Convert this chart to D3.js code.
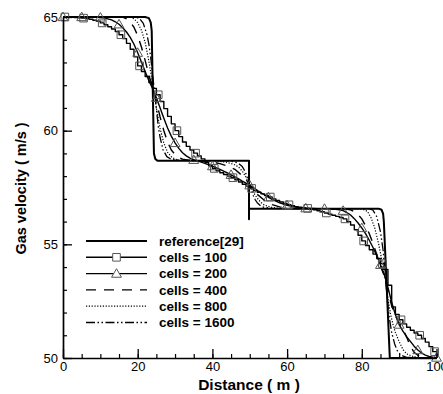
<!DOCTYPE html>
<html>
<head>
<meta charset="utf-8">
<script src="https://cdn.jsdelivr.net/npm/d3@7"></script>
<style>
  html, body { margin: 0; padding: 0; background: #fff; }
  svg { display: block; font-family: "Liberation Sans", Arial, sans-serif; }
</style>
</head>
<body>
<svg id="chart" width="443" height="394"></svg>
<script>
// Gas velocity along the pipe: exact profile and grid-refinement runs.

// Exact (reference) profile
const refX = [0, 22.0, 23.0, 23.5, 23.75, 24.35, 24.7, 25.3, 49.8, 49.8, 49.8, 84.5, 85.3, 85.7, 85.9, 87.5, 100];
const refY = [65, 65, 64.95, 64.75, 64.4, 59.0, 58.76, 58.68, 58.68, 56.1, 56.57, 56.57, 56.52, 56.35, 56.0, 50.0, 50.0];

// cells = 100 : cell-centred values, cell width 1 m
const cells100 = [
  65.00, 65.00, 64.99, 64.98, 64.97, 64.95, 64.93, 64.90, 64.86, 64.81,
  64.74, 64.66, 64.57, 64.47, 64.36, 64.22, 64.05, 63.84, 63.58, 63.25,
  62.85, 62.60, 62.38, 62.12, 61.86, 61.58, 61.28, 60.97, 60.63, 60.30,
  60.00, 59.74, 59.50, 59.31, 59.15, 59.01, 58.89, 58.76, 58.61, 58.46,
  58.34, 58.24, 58.15, 58.07, 58.00, 57.93, 57.84, 57.74, 57.64, 57.55,
  57.46, 57.37, 57.29, 57.22, 57.15, 57.08, 57.00, 56.93, 56.86, 56.80,
  56.74, 56.70, 56.66, 56.63, 56.60, 56.58, 56.55, 56.52, 56.48, 56.44,
  56.38, 56.33, 56.28, 56.23, 56.18, 56.12, 56.00, 55.85, 55.64, 55.40,
  55.15, 54.95, 54.76, 54.57, 54.38, 54.15, 53.90, 53.20, 52.25, 51.92,
  51.68, 51.50, 51.35, 51.22, 51.10, 51.00, 50.86, 50.70, 50.50, 50.28
];

// cells = 200 : sampled every 1 m
const cells200 = [
  65.00, 65.00, 65.00, 65.00, 65.00, 65.00, 65.00, 65.00, 65.00, 65.00,
  64.98, 64.96, 64.92, 64.87, 64.79, 64.68, 64.53, 64.34, 64.10, 63.80,
  63.43, 63.02, 62.60, 62.20, 61.85, 61.45, 61.00, 60.55, 60.12, 59.76,
  59.46, 59.22, 59.03, 58.89, 58.79, 58.72, 58.67, 58.62, 58.56, 58.50,
  58.44, 58.37, 58.30, 58.22, 58.14, 58.06, 57.97, 57.88, 57.78, 57.69,
  57.60, 57.49, 57.38, 57.27, 57.17, 57.07, 56.98, 56.90, 56.83, 56.77,
  56.72, 56.68, 56.65, 56.62, 56.60, 56.59, 56.58, 56.58, 56.57, 56.57,
  56.57, 56.56, 56.55, 56.54, 56.52, 56.48, 56.40, 56.29, 56.13, 55.94,
  55.72, 55.47, 55.18, 54.86, 54.50, 54.10, 53.68, 53.10, 52.45, 51.90,
  51.47, 51.18, 50.94, 50.73, 50.52, 50.35, 50.22, 50.13, 50.07, 50.04,
  50.02
];

// cells = 400
const cells400X = [0, 16, 17, 18, 19, 20, 21, 22, 23, 24, 25, 26, 27, 28, 29, 30, 31, 32, 34, 38,
  40, 42, 44, 46, 48, 49, 50, 51, 52, 54, 56, 58, 60, 63, 70, 75, 77, 78.5, 80, 81,
  82, 83, 84, 85, 86, 86.5, 87.2, 88, 89, 90, 91, 92, 93, 94, 95, 96, 98, 100];
const cells400Y = [65, 65, 64.92, 64.78, 64.55, 64.18, 63.68, 63.08, 62.45, 61.9, 61.3, 60.6, 60.0, 59.5, 59.15, 58.95, 58.82, 58.75, 58.69, 58.66,
  58.62, 58.55, 58.45, 58.3, 58.02, 57.85, 57.62, 57.4, 57.2, 56.93, 56.75, 56.65, 56.6, 56.57, 56.57, 56.56, 56.52, 56.4, 56.12, 55.82,
  55.47, 55.04, 54.55, 54.05, 53.62, 53.32, 52.82, 52.3, 51.85, 51.55, 51.28, 50.92, 50.52, 50.25, 50.12, 50.06, 50.02, 50.0];

// cells = 800
const cells800X = [0, 18, 19, 20, 21, 22, 23, 24, 25, 26, 27, 28, 29, 30, 31, 35, 40, 42, 44, 46,
  47, 48, 49, 50, 51, 52, 53, 54, 56, 58, 65, 75, 80, 81.5, 82.5, 83.5, 84.5, 85.5, 86.3, 87,
  87.7, 88.5, 89, 90, 91, 92, 94, 96, 100];
const cells800Y = [65, 65, 64.92, 64.75, 64.42, 63.88, 63.05, 62.05, 61.0, 60.1, 59.45, 59.05, 58.85, 58.75, 58.7, 58.68, 58.67, 58.65, 58.6, 58.5,
  58.4, 58.22, 57.96, 57.62, 57.28, 57.03, 56.84, 56.72, 56.62, 56.58, 56.57, 56.57, 56.56, 56.45, 56.16, 55.7, 55.02, 54.2, 53.5, 52.6,
  51.92, 51.38, 51.12, 50.72, 50.38, 50.18, 50.05, 50.01, 50.0];

// cells = 1600
const cells1600X = [0, 19.5, 20.5, 21.5, 22.5, 23, 23.5, 24, 24.5, 25, 25.5, 26, 26.8, 27.8, 29, 32, 44, 46, 47, 48,
  48.5, 49, 49.5, 50, 50.5, 51, 51.5, 52, 53, 54, 56, 60, 82, 83, 84, 85, 85.7, 86.3, 86.8, 87.3,
  88, 88.8, 89.5, 90.5, 92, 100];
const cells1600Y = [65, 65, 64.93, 64.72, 64.22, 63.8, 63.2, 62.45, 61.7, 60.95, 60.2, 59.7, 59.15, 58.86, 58.74, 58.69, 58.68, 58.63, 58.56, 58.42,
  58.28, 58.1, 57.87, 57.62, 57.36, 57.13, 56.95, 56.83, 56.68, 56.62, 56.58, 56.57, 56.57, 56.5, 56.22, 55.55, 54.75, 53.6, 52.6, 51.85,
  51.12, 50.62, 50.32, 50.12, 50.03, 50.0];

// Axis ticks and legend text
const xMajorTicks = [0, 20, 40, 60, 80, 100];
const xMinorTicks = d3.range(0, 101, 5);
const yMajorTicks = [50, 55, 60, 65];
const yMinorTicks = d3.range(50, 66, 1);
const legendLabels = ["reference[29]", "cells = 100", "cells = 200", "cells = 400", "cells = 800", "cells = 1600"];

const margin = { left: 63, top: 17, right: 6.5, bottom: 36 };
const W = 443, H = 394;
const svg = d3.select("#chart");

const x = d3.scaleLinear().domain([0, 100]).range([margin.left, W - margin.right]);
const y = d3.scaleLinear().domain([50, 65]).range([H - margin.bottom, margin.top]);

const zip = (xs, ys) => xs.map((v, i) => [v, ys[i]]);
const refPts = zip(refX, refY);
const c100Pts = [[0, cells100[0]], ...cells100.map((v, i) => [i + 0.5, v]), [100, cells100[cells100.length - 1]]];
const c200Pts = cells200.map((v, i) => [i, v]);
const c400Pts = zip(cells400X, cells400Y);
const c800Pts = zip(cells800X, cells800Y);
const c1600Pts = zip(cells1600X, cells1600Y);

const line = d3.line().x(d => x(d[0])).y(d => y(d[1]));
const stepLine = d3.line().x(d => x(d[0])).y(d => y(d[1])).curve(d3.curveStep);

const styles = {
  ref:  { w: 2.0, dash: null },
  c100: { w: 1.4, dash: null },
  c200: { w: 1.4, dash: null },
  c400: { w: 1.4, dash: "10,8" },
  c800: { w: 1.2, dash: "1.2,1.6" },
  c1600:{ w: 1.3, dash: "9,2.5,1.5,2.5,1.5,2.5" }
};

const plot = svg.append("g");
function drawPath(pts, gen, st) {
  plot.append("path").attr("d", gen(pts))
    .attr("fill", "none").attr("stroke", "#000")
    .attr("stroke-width", st.w)
    .attr("stroke-linejoin", "round")
    .attr("stroke-dasharray", st.dash);
}
drawPath(c1600Pts, line, styles.c1600);
drawPath(c800Pts, line, styles.c800);
drawPath(c400Pts, line, styles.c400);
drawPath(c200Pts, line, styles.c200);
drawPath(c100Pts, stepLine, styles.c100);
drawPath(refPts, line, styles.ref);

// Markers: squares every 5 cells (100-cell run), triangles every 5 m (200-cell run)
const sq = d3.symbol().type(d3.symbolSquare).size(58);
const tri = d3.symbol().type(d3.symbolTriangle).size(42);
const sqPts = cells100.map((v, i) => [i + 0.5, v]).filter((d, i) => i % 5 === 0 || i === 99);
const triPts = c200Pts.filter((d, i) => i % 5 === 0);
plot.selectAll(".sq").data(sqPts).join("path")
  .attr("d", sq).attr("transform", d => `translate(${x(d[0])},${y(d[1])})`)
  .attr("fill", "none").attr("stroke", "#555").attr("stroke-width", 1);
plot.selectAll(".tri").data(triPts).join("path")
  .attr("d", tri).attr("transform", d => `translate(${x(d[0])},${y(d[1]) + 0.8})`)
  .attr("fill", "none").attr("stroke", "#555").attr("stroke-width", 1);

// Axes: ticks point into the plot, minor ticks without labels
const axisFont = g => g.selectAll("text").attr("font-size", 13).attr("fill", "#000")
  .attr("font-family", "'Liberation Sans', Arial, sans-serif");
const axisStroke = g => {
  g.select(".domain").attr("stroke", "#000").attr("stroke-width", 1.7);
  g.selectAll(".tick line").attr("stroke", "#000").attr("stroke-width", 1.3);
};

svg.append("g").attr("transform", `translate(0,${y(50)})`)
  .call(d3.axisBottom(x).tickValues(xMinorTicks).tickSize(-4).tickFormat("").tickSizeOuter(0))
  .call(g => g.select(".domain").remove())
  .call(g => g.selectAll(".tick line").attr("stroke", "#000").attr("stroke-width", 1.2));
svg.append("g").attr("transform", `translate(${x(0)},0)`)
  .call(d3.axisLeft(y).tickValues(yMinorTicks).tickSize(-4).tickFormat("").tickSizeOuter(0))
  .call(g => g.select(".domain").remove())
  .call(g => g.selectAll(".tick line").attr("stroke", "#000").attr("stroke-width", 1.2));

svg.append("g").attr("transform", `translate(0,${y(50)})`)
  .call(d3.axisBottom(x).tickValues(xMajorTicks).tickSize(-9).tickPadding(4).tickSizeOuter(0).tickFormat(d3.format("d")))
  .call(axisStroke).call(axisFont);
svg.append("g").attr("transform", `translate(${x(0)},0)`)
  .call(d3.axisLeft(y).tickValues(yMajorTicks).tickSize(-9).tickPadding(5).tickSizeOuter(0).tickFormat(d3.format("d")))
  .call(axisStroke).call(axisFont);

// Axis titles
svg.append("text").attr("x", 249).attr("y", 390).attr("text-anchor", "middle")
  .attr("font-size", 15.5).attr("font-weight", "bold").text("Distance ( m )");
svg.append("text").attr("transform", "translate(26,188.5) rotate(-90)").attr("text-anchor", "middle")
  .attr("font-size", 14.5).attr("font-weight", "bold").text("Gas velocity ( m/s )");

// Legend
const legendKeys = ["ref", "c100", "c200", "c400", "c800", "c1600"];
const legendRowY = d3.scalePoint().domain(legendKeys).range([241, 322.5]);
const leg = svg.append("g");
legendKeys.forEach((k, i) => {
  const ly = legendRowY(k);
  leg.append("line").attr("x1", 86).attr("x2", 147).attr("y1", ly).attr("y2", ly)
    .attr("stroke", "#000").attr("stroke-width", styles[k].w).attr("stroke-dasharray", styles[k].dash);
  if (k === "c100") leg.append("path").attr("d", sq).attr("transform", `translate(116.5,${ly})`)
    .attr("fill", "#fff").attr("stroke", "#555");
  if (k === "c200") leg.append("path").attr("d", tri).attr("transform", `translate(116.5,${ly + 0.8})`)
    .attr("fill", "#fff").attr("stroke", "#555");
  leg.append("text").attr("x", 159).attr("y", ly).attr("dy", "0.36em")
    .attr("font-size", 13.5).attr("font-weight", "bold").text(legendLabels[i]);
});
</script>
</body>
</html>
